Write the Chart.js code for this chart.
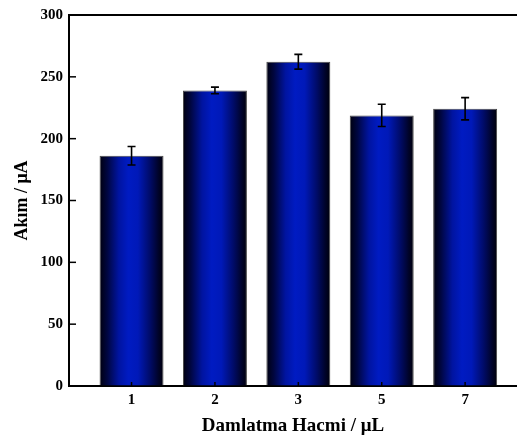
<!DOCTYPE html>
<html>
<head>
<meta charset="utf-8">
<script src="https://cdn.jsdelivr.net/npm/chart.js@4/dist/chart.umd.min.js"></script>
<style>
html,body{margin:0;padding:0;background:#fff;overflow:hidden;}
canvas{display:block;}
</style>
</head>
<body>
<canvas id="c" width="517" height="440"></canvas>
<script>
const categories = ['1', '2', '3', '5', '7'];
const currents = [186.2, 239.0, 262.2, 218.8, 224.2];
const errors = [7.5, 2.7, 6.0, 9.0, 9.0];
const yTicks = [0, 50, 100, 150, 200, 250, 300];
const xTitle = 'Damlatma Hacmi / μL';
const yTitle = 'Akım / μA';

const FONT = "'Liberation Serif', 'Times New Roman', serif";
const BAR_FRAC = 0.767;

function barGradient(ctx) {
  const chart = ctx.chart;
  const xs = chart.scales.x;
  if (!chart.chartArea || !xs) return '#0019c0';
  const c = xs.getPixelForValue(ctx.dataIndex);
  const half = (xs.getPixelForValue(1) - xs.getPixelForValue(0)) * BAR_FRAC / 2;
  const g = chart.ctx.createLinearGradient(c - half, 0, c + half, 0);
  g.addColorStop(0, '#00000e');
  g.addColorStop(0.12, '#000640');
  g.addColorStop(0.3, '#0014a0');
  g.addColorStop(0.45, '#001bc2');
  g.addColorStop(0.6, '#0019b8');
  g.addColorStop(0.78, '#000c6c');
  g.addColorStop(0.92, '#00032a');
  g.addColorStop(1, '#00000a');
  return g;
}

const decorations = {
  id: 'decorations',
  afterDatasetsDraw(chart) {
    const ctx = chart.ctx;
    const xs = chart.scales.x, ys = chart.scales.y;
    const area = chart.chartArea;
    ctx.save();
    ctx.strokeStyle = '#000';
    ctx.lineWidth = 1.6;
    const meta = chart.getDatasetMeta(0);
    meta.data.forEach((bar, i) => {
      const x = bar.x;
      const yt = ys.getPixelForValue(currents[i] + errors[i]);
      const yb = ys.getPixelForValue(currents[i] - errors[i]);
      ctx.beginPath();
      ctx.moveTo(x, yt); ctx.lineTo(x, yb);
      ctx.moveTo(x - 4, yt); ctx.lineTo(x + 4, yt);
      ctx.moveTo(x - 4, yb); ctx.lineTo(x + 4, yb);
      ctx.stroke();
    });
    ctx.lineWidth = 1.5;
    yTicks.forEach(v => {
      const y = ys.getPixelForValue(v);
      ctx.beginPath();
      ctx.moveTo(area.left, y); ctx.lineTo(area.left + 7, y);
      ctx.stroke();
    });
    categories.forEach((_, i) => {
      const x = xs.getPixelForValue(i);
      ctx.beginPath();
      ctx.moveTo(x, area.bottom); ctx.lineTo(x, area.bottom - 4);
      ctx.stroke();
    });
    ctx.lineWidth = 2;
    ctx.beginPath();
    ctx.moveTo(area.left - 1, area.top); ctx.lineTo(area.right, area.top);
    ctx.stroke();
    ctx.restore();
  }
};

new Chart(document.getElementById('c'), {
  type: 'bar',
  data: {
    datasets: [{
      data: currents.map((v, i) => ({ x: i, y: v })),
      backgroundColor: barGradient,
      borderColor: 'rgba(40,40,40,0.85)',
      borderWidth: 1,
      categoryPercentage: BAR_FRAC,
      barPercentage: 1
    }]
  },
  options: {
    responsive: false,
    animation: false,
    events: [],
    layout: { padding: { top: 15, right: 0, left: 0, bottom: 0 } },
    plugins: { legend: { display: false }, tooltip: { enabled: false } },
    scales: {
      x: {
        type: 'linear',
        offset: false,
        min: -0.75,
        max: 4.622,
        afterBuildTicks: s => { s.ticks = categories.map((_, i) => ({ value: i })); },
        afterFit: s => { s.height = 54; },
        grid: { display: true, offset: false, drawOnChartArea: false, drawTicks: false },
        border: { display: true, color: '#000', width: 2 },
        ticks: {
          callback: v => categories[v],
          color: '#000',
          font: { family: FONT, size: 15, weight: 'bold' },
          padding: 5,
          maxRotation: 0,
          autoSkip: false
        },
        title: {
          display: true,
          text: xTitle,
          color: '#000',
          font: { family: FONT, size: 19, weight: 'bold' },
          padding: { top: 0, bottom: 3 }
        }
      },
      y: {
        min: 0,
        max: 300,
        afterBuildTicks: s => { s.ticks = yTicks.map(v => ({ value: v })); },
        afterFit: s => { s.width = 69; },
        grid: { display: true, drawOnChartArea: false, drawTicks: false },
        border: { display: true, color: '#000', width: 2 },
        ticks: {
          color: '#000',
          font: { family: FONT, size: 15, weight: 'bold' },
          padding: 6
        },
        title: {
          display: true,
          text: yTitle,
          color: '#000',
          font: { family: FONT, size: 18, weight: 'bold' },
          padding: { top: 12, bottom: 0 }
        }
      }
    }
  },
  plugins: [decorations]
});
</script>
</body>
</html>
